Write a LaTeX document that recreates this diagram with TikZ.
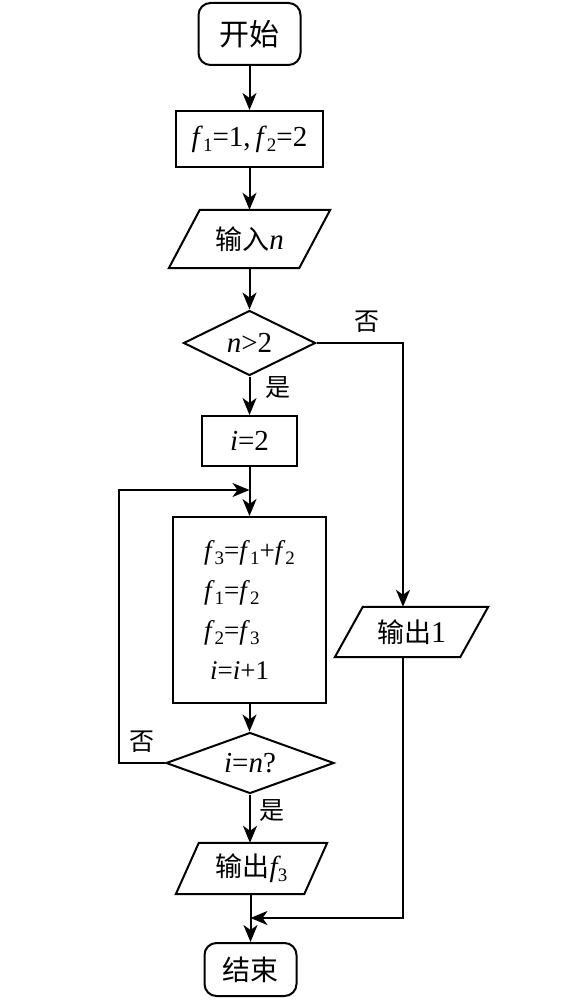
\documentclass[tikz,border=0pt]{standalone}
\usepackage{fontspec}
\setmainfont{Liberation Serif}
\newfontfamily\cjk{Noto Sans CJK SC}
\usetikzlibrary{shapes.geometric,arrows.meta}
\newcommand\sbs[1]{\raisebox{-0.18em}{\fontsize{19pt}{19pt}\selectfont #1}}
\newcommand\rmit[1]{{\rmfamily\itshape\fontsize{29pt}{29pt}\selectfont #1}}
\newcommand\paral[2]{\draw[shapeline] ([xshift=#2pt]#1.north west) -- (#1.north east) -- ([xshift=-#2pt]#1.south east) -- (#1.south west) -- cycle;}
\tikzset{
  shapeline/.style={line width=2pt, line join=miter},
  box/.style={draw, shapeline, rectangle, inner sep=0pt, align=center},
  term/.style={box, rounded corners=12pt},
  ghost/.style={rectangle, inner sep=0pt, align=center},
  dia/.style={draw, shapeline, diamond, aspect=2, inner sep=0pt},
  arr/.style={line width=2pt, -{Stealth[length=17pt,width=14pt,inset=5pt]}},
  lbl/.style={inner sep=0pt, font=\cjk\fontsize{25pt}{25pt}\selectfont},
  txt/.style={font=\fontsize{29pt}{29pt}\selectfont},
  ctxt/.style={font=\cjk\fontsize{27pt}{27pt}\selectfont},
}
\begin{document}
\begin{tikzpicture}[x=1pt,y=-1pt]
\useasboundingbox (0,0) rectangle (566,1000);
\node[term, minimum width=102pt, minimum height=62pt, font=\cjk\fontsize{30pt}{30pt}\selectfont] (st) at (249.5,34) {开始};
\node[box, minimum width=147pt, minimum height=56pt, txt] (init) at (249.5,139) {\textit{f}\sbs{1}=1,\,\textit{f}\sbs{2}=2};
\node[ghost, minimum width=161pt, minimum height=58pt, ctxt] (inp) at (249.5,239) {输入\rmit{n}};
\paral{inp}{31}
\node[dia, minimum width=132pt, minimum height=65pt, txt] (d1) at (249.5,343) {\textit{n}>2};
\node[box, minimum width=95pt, minimum height=50pt, txt] (i2) at (249.5,441) {\textit{i}=2};
\node[box, minimum width=153pt, minimum height=186pt, align=left, font=\fontsize{27pt}{40pt}\selectfont] (body) at (249.5,610)
  {\textit{f}\sbs{3}=\textit{f}\sbs{1}+\textit{f}\sbs{2}\\ \textit{f}\sbs{1}=\textit{f}\sbs{2}\\ \textit{f}\sbs{2}=\textit{f}\sbs{3}\\ \hspace{6pt}\textit{i}=\textit{i}+1};
\node[dia, minimum width=168pt, minimum height=61pt, txt] (d2) at (250,763) {\textit{i}=\textit{n}?};
\node[ghost, minimum width=151pt, minimum height=51pt, ctxt] (of3) at (251.5,868.5) {输出\rmit{f}{\rmfamily\sbs{3}}};
\paral{of3}{23}
\node[ghost, minimum width=153pt, minimum height=50pt, ctxt] (o1) at (411.5,632) {输出{\rmfamily\fontsize{30pt}{30pt}\selectfont 1}};
\paral{o1}{28}
\node[term, minimum width=92pt, minimum height=53pt, font=\cjk\fontsize{28pt}{28pt}\selectfont] (en) at (250.5,969.5) {结束};
\coordinate (rx) at (403,343);
\coordinate (lx) at (119,490);
\coordinate (lp) at (249.5,490);
\coordinate (mg) at (250.5,918);
\node[lbl] (no1) at (367,322) {否};
\node[lbl] (yes1) at (278,388) {是};
\node[lbl] (no2) at (142,742) {否};
\node[lbl] (yes2) at (272,811) {是};
\draw[arr] (st) -- (init);
\draw[arr] (init) -- (inp);
\draw[arr] (inp) -- (d1);
\draw[arr] (d1) -- (i2);
\draw[arr] (i2) -- (body);
\draw[arr] (body) -- (body.south |- d2.north);
\draw[arr] (d2.south) -- (d2.south |- of3.north);
\draw[arr] (of3.south -| en) -- (en);
\draw[arr] (d1.east) -| (o1.north -| rx);
\draw[arr] (d2.west) -| (lx) -- (lp);
\draw[arr] (o1.south -| rx) |- (mg);
\end{tikzpicture}
\end{document}
